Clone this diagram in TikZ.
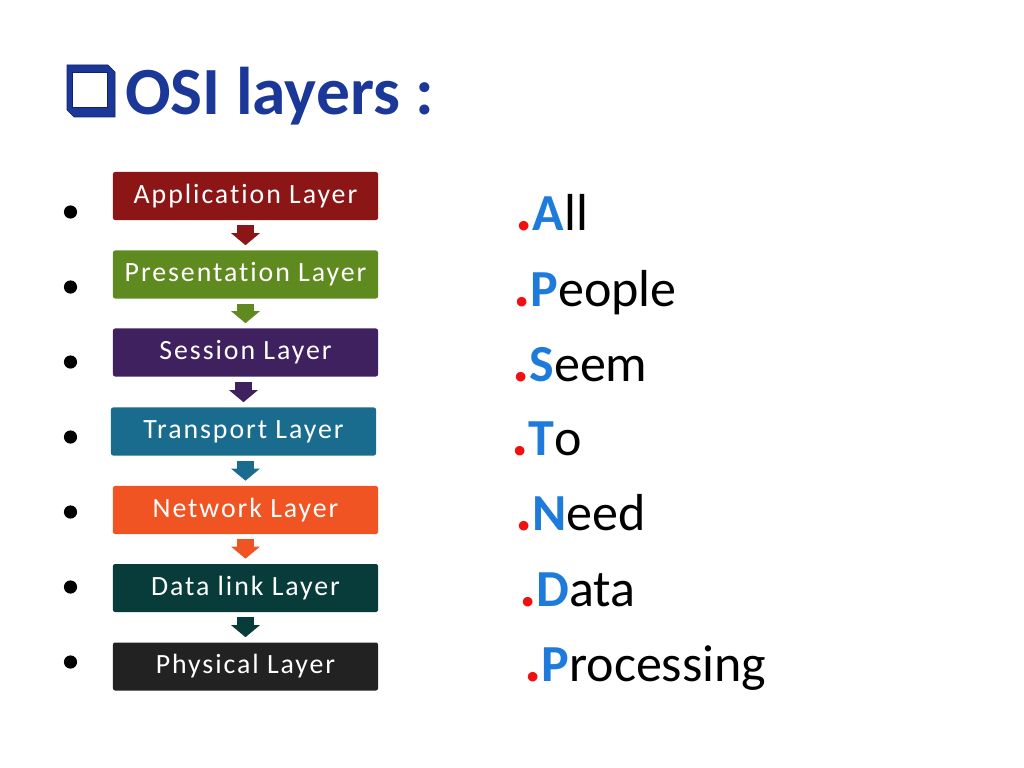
\documentclass[tikz,border=0pt]{standalone}
\usepackage{fontspec}
\setmainfont{Carlito}
\newfontfamily\layerfont[LetterSpace=7, Ligatures=NoCommon]{Carlito}
\usepackage{tikz}
\usetikzlibrary{arrows.meta, calc, positioning}
\definecolor{titleblue}{HTML}{1B3798}
\definecolor{titledark}{HTML}{10216A}
\definecolor{appred}{HTML}{8C1616}
\definecolor{presgreen}{HTML}{5F8A1F}
\definecolor{sesspurple}{HTML}{40215F}
\definecolor{transblue}{HTML}{1A6C8E}
\definecolor{netorange}{HTML}{F05423}
\definecolor{datateal}{HTML}{083C3A}
\definecolor{physblack}{HTML}{222222}
\definecolor{capblue}{HTML}{1F7BDB}
\definecolor{dotred}{HTML}{F01010}
\tikzset{
	layerbox/.style={fill=#1, rounded corners=1.5pt, minimum width=6.625cm, minimum height=1.2cm,
		inner sep=0pt, text=white, font=\layerfont\fontsize{19.8}{22}\selectfont}
}
\tikzset{
	layerarrow/.style={draw=#1, line width=0.425cm, -{Triangle[width=0.7cm, length=0.3cm]}}
}
\tikzset{
	bulletdot/.style={circle, fill=black, minimum size=0.33cm, inner sep=0pt}
}
\tikzset{
	mnemtext/.style={anchor=base west, inner sep=0pt, font=\fontsize{37}{40}\selectfont}
}
\newcommand{\mnem}[2]{\textcolor{dotred}{\bfseries\fontsize{46}{46}\selectfont .}\textcolor{capblue}{\bfseries #1}#2}

\begin{document}
\begin{tikzpicture}[x=0.025cm, y=-0.025cm]
      \useasboundingbox (0,0) rectangle (1024,768);
      % title
      \fill[titleblue, draw=titledark] (67,65) -- (108,65) -- (115,72) -- (115,117) -- (74,117) -- (67,110) -- cycle;
      \fill[white, draw=titledark] (72,72) rectangle (107,107);
      \node[anchor=base west, inner sep=0pt, text=titleblue, font=\bfseries\fontsize{48}{50}\selectfont] (title) at (125,115) {OSI layers :};
      % layers
      \node[layerbox=appred] (app) at (245.5,196) {Application Layer};
      \node[layerbox=presgreen] (pres) at (245.5,274.5) {Presentation Layer};
      \node[layerbox=sesspurple] (sess) at (245.5,352.5) {Session Layer};
      \node[layerbox=transblue] (trans) at (243.5,431.5) {Transport Layer};
      \node[layerbox=netorange] (net) at (245.5,510) {Network Layer};
      \node[layerbox=datateal] (data) at (245.5,588) {Data link Layer};
      \node[layerbox=physblack] (phys) at (245.5,666.5) {Physical Layer};
      \draw[layerarrow=appred] ($(app.south -| pres.north)+(0,5)$) -- ($(pres.north)+(0,-5)$);
      \draw[layerarrow=presgreen] ($(pres.south -| sess.north)+(0,5)$) -- ($(sess.north)+(0,-5)$);
      \draw[layerarrow=sesspurple] ($(sess.south -| trans.north)+(0,5)$) -- ($(trans.north)+(0,-5)$);
      \draw[layerarrow=transblue] ($(trans.south -| net.north)+(0,5)$) -- ($(net.north)+(0,-5)$);
      \draw[layerarrow=netorange] ($(net.south -| data.north)+(0,5)$) -- ($(data.north)+(0,-5)$);
      \draw[layerarrow=datateal] ($(data.south -| phys.north)+(0,5)$) -- ($(phys.north)+(0,-5)$);
      % bullets
      \node[bulletdot] (b1) at (70.5,212) {};
      \node[bulletdot] (b2) at (70.5,287) {};
      \node[bulletdot] (b3) at (70.5,362) {};
      \node[bulletdot] (b4) at (70.5,437) {};
      \node[bulletdot] (b5) at (70.5,512) {};
      \node[bulletdot] (b6) at (70.5,587) {};
      \node[bulletdot] (b7) at (70.5,662) {};
      % mnemonic
      \node[mnemtext] (m1) at (515,230) {\mnem{A}{ll}};
      \node[mnemtext] (m2) at (513,306) {\mnem{P}{eople}};
      \node[mnemtext] (m3) at (512,381) {\mnem{S}{eem}};
      \node[mnemtext] (m4) at (511,455) {\mnem{T}{o}};
      \node[mnemtext] (m5) at (515,530) {\mnem{N}{eed}};
      \node[mnemtext] (m6) at (519,606) {\mnem{D}{ata}};
      \node[mnemtext] (m7) at (524,681) {\mnem{P}{rocessing}};
    \end{tikzpicture}
\end{document}
